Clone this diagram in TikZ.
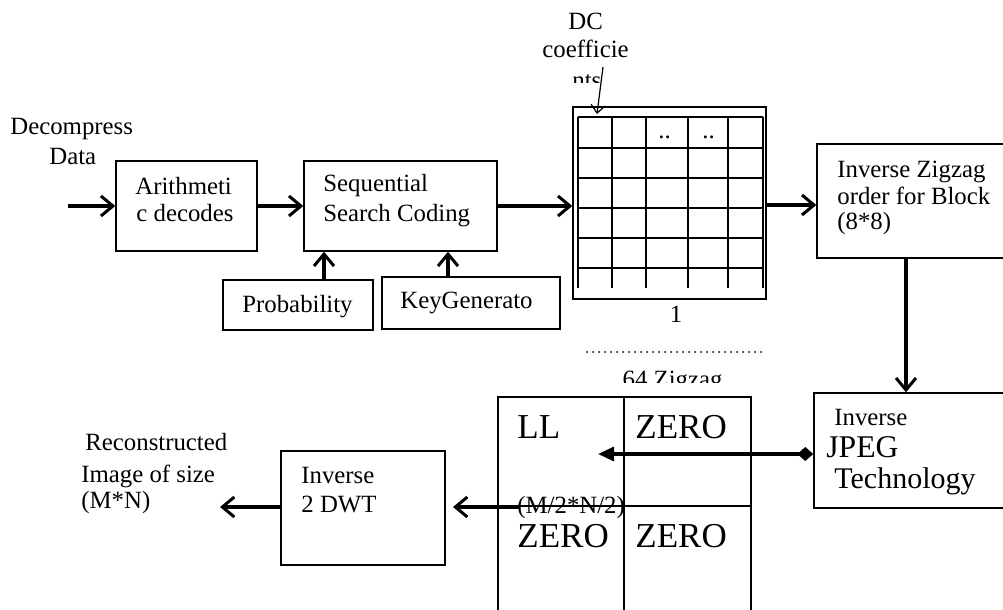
\documentclass[tikz,border=0pt]{standalone}
\usepackage{fontspec}
\setmainfont{Liberation Serif}
\usetikzlibrary{arrows.meta,fit}
\begin{document}
\begin{tikzpicture}[x=0.5pt,y=-0.5pt,
  box/.style={draw,line width=0.7pt,inner sep=0pt,fill=white},
  txt/.style={anchor=base west,inner sep=0pt,font=\fontsize{12.4}{14}\selectfont},
  mid/.style={anchor=base west,inner sep=0pt,font=\fontsize{15}{18}\selectfont},
  jp/.style={anchor=base west,inner sep=0pt,font=\fontsize{15.8}{18}\selectfont},
  big/.style={anchor=base west,inner sep=0pt,font=\fontsize{17.5}{20}\selectfont},
  arr/.style={line width=1.6pt,-{Straight Barb[length=6pt,width=10pt,line width=1.5pt]}},
  thinarr/.style={line width=0.6pt,-{Straight Barb[length=4pt,width=7pt,line width=0.6pt]}},
  gridline/.style={line width=1.3pt},
  dia/.style={line width=1.6pt,{Diamond[length=8pt,width=7pt]}-{Triangle[length=8pt,width=7pt]}}]
\useasboundingbox (0,0) rectangle (1003,610);
\clip (0,0) rectangle (1003,610);
\fill[white] (0,0) rectangle (1003,610);

% boxes
\node[box,fit={(116,161)(257,251)}] (arith) {};
\node[box,fit={(304,161)(497,251)}] (seq) {};
\node[box,fit={(223,280)(373,330)}] (prob) {};
\node[box,fit={(382,277)(560,329)}] (key) {};
\node[box,fit={(573,107)(766,299)}] (mat) {};
\node[box,fit={(817,144)(1020,258)}] (zz) {};
\node[box,fit={(814,393)(1020,508)}] (jpeg) {};
\node[box,fit={(281,451)(445,565)}] (dwt) {};

% texts
\node[txt] (t1) at (10,135) {Decompress};
\node[txt] (t2) at (49,165) {Data};
\node[txt] (t3) at (135,195) {Arithmeti};
\node[txt] (t4) at (136,222) {c decodes};
\node[txt] (t5) at (323,192) {Sequential};
\node[txt] (t6) at (323,222) {Search Coding};
\node[txt] (t7) at (242,313) {Probability};
\node[txt] (t8) at (400,308) {KeyGenerato};
\node[txt] (t9) at (837,178) {Inverse Zigzag};
\node[txt] (t10) at (837,205) {order for Block};
\node[txt] (t11) at (837,230) {(8*8)};
\node[txt] (t12) at (834,425) {Inverse};
\node[jp] (t13) at (826,457) {JPEG};
\node[mid] (t14) at (834,488) {Technology};
\node[txt] (t15) at (301,483) {Inverse};
\node[txt] (t16) at (301,512) {2 DWT};
\node[txt] (t17) at (85,451) {Reconstructed};
\node[txt] (t18) at (81,482) {Image of size};
\node[txt] (t19) at (81,508) {(M*N)};
\node[txt] (dc1) at (568,30) {DC};
\node[txt] (dc2) at (542,58) {coefficie};
\begin{scope}
  \clip (0,0) rectangle (1003,83);
  \node[txt] (dc3) at (572,89) {nts};
\end{scope}
\node[txt,anchor=base] (one) at (676,322) {1};
\draw[line width=1pt,line cap=round,dash pattern=on 0pt off 3pt] (587,352) -- (766,352);
\begin{scope}
  \clip (0,0) rectangle (1003,382);
  \node[txt] (zig) at (616,387) {.64 Zigzag};
\end{scope}

% matrix grid
\foreach \gx in {578,612,646,688,728,763} \draw[gridline] (\gx,117) -- (\gx,288);
\foreach \gy in {117,148,178,208,238,268} \draw[gridline] (578,\gy) -- (763,\gy);
\node[txt] (d1) at (658,139) {..};
\node[txt] (d2) at (702,139) {..};

% lower grid
\node[box,line width=0.8pt,fit={(498,397)(751,640)}] (low) {};
\draw[line width=0.8pt] (low.north -| 624,0) -- (low.south -| 624,0);
\draw[line width=0.8pt] (low.west |- 0,506) -- (low.east |- 0,506);
\node[big] (ll) at (517,438) {LL};
\node[big] (z1) at (635,438) {ZERO};
\node[big] (z2) at (517,547) {ZERO};
\node[big] (z3) at (635,547) {ZERO};
\node[txt] (mn) at (517,513) {(M/2*N/2)};

% connectors
\coordinate (inp) at (68,206);
\draw[arr] (inp) -- (arith);
\draw[arr] (arith) -- (seq);
\draw[arr] (seq.east) -- (seq.east -| mat.west);
\draw[arr] (mat.east |- 0,205) -- (zz.west |- 0,205);
\coordinate (pa) at (324,0);
\coordinate (ka) at (448,0);
\draw[arr] (prob.north -| pa) -- (seq.south -| pa);
\draw[arr] (key.north -| ka) -- (seq.south -| ka);
\coordinate (zx) at (906,0);
\draw[arr] (zz.south -| zx) -- (jpeg.north -| zx);
\coordinate (llpt) at (598,454);
\draw[dia] (jpeg.west |- llpt) -- (llpt);
\coordinate (ls) at (520,507);
\coordinate (le) at (453,507);
\draw[arr] (ls) -- (le);
\coordinate (out) at (220,507);
\draw[arr] (dwt.west |- out) -- (out);
\coordinate (dcs) at (603,67);
\coordinate (dce) at (597,114);
\draw[thinarr] (dcs) -- (dce);
\end{tikzpicture}
\end{document}
